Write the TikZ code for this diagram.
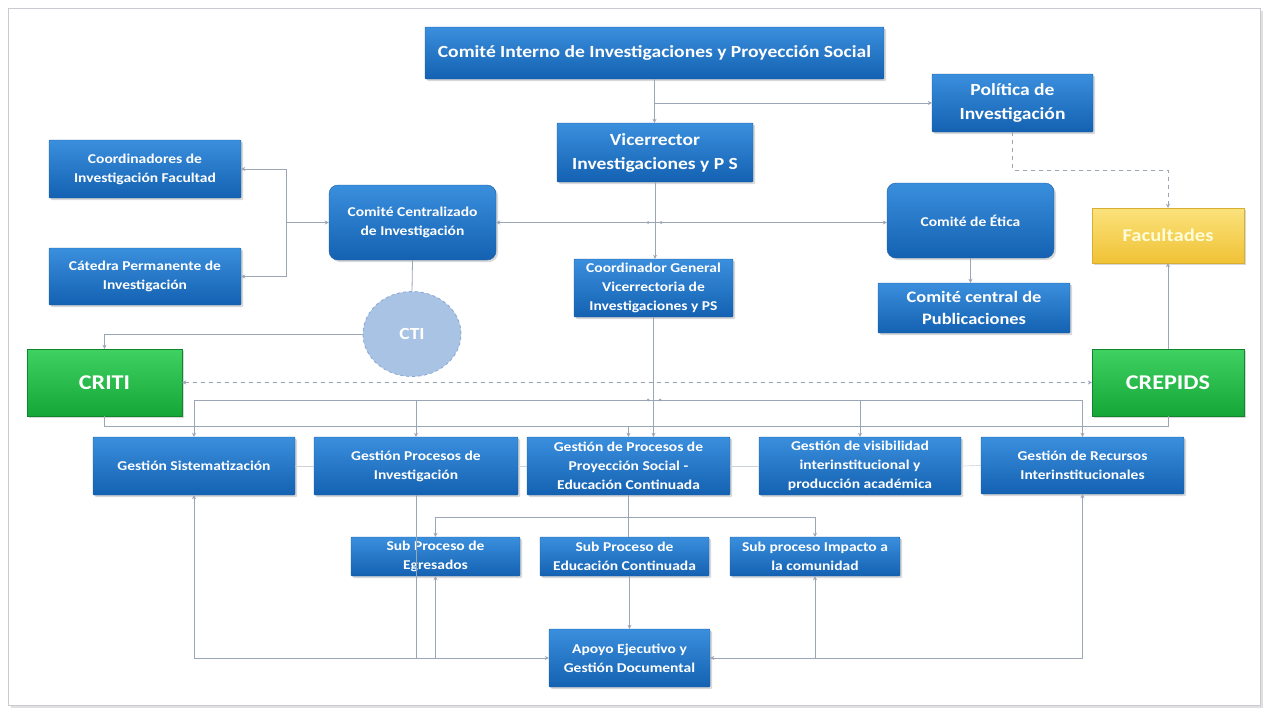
\documentclass[tikz,border=0pt]{standalone}
\usepackage{fontspec}
\setmainfont{Carlito}[FakeStretch=1.15]
\usetikzlibrary{shapes.geometric,arrows.meta,shadows,calc}
\definecolor{bTop}{HTML}{3A8FDD}
\definecolor{bBot}{HTML}{1461B2}
\definecolor{bLine}{HTML}{1A5CA3}
\definecolor{gTop}{HTML}{3FD262}
\definecolor{gBot}{HTML}{14A637}
\definecolor{yTop}{HTML}{FBE27C}
\definecolor{yBot}{HTML}{F0C235}
\definecolor{ctiFill}{HTML}{A9C3E4}
\definecolor{ctiLine}{HTML}{88A8D3}
\definecolor{lnc}{HTML}{9AA5B6}
\definecolor{frameC}{HTML}{C8CCD2}
\tikzset{
  box/.style={draw=bLine, line width=0.4pt, top color=bTop, bottom color=bBot,
    text=white, font=\bfseries\fontsize{13.5}{19}\selectfont, align=center,
    inner sep=1pt, rounded corners=1pt,
    drop shadow={shadow xshift=2pt, shadow yshift=-2pt, opacity=0.3}},
  bigbox/.style={box, font=\bfseries\fontsize{17}{24}\selectfont},
  rbox/.style={box, rounded corners=9pt},
  greenbox/.style={draw=gBot!80!black, line width=0.4pt, top color=gTop, bottom color=gBot,
    text=white, font=\bfseries\fontsize{21}{26}\selectfont, align=center,
    drop shadow={shadow xshift=2pt, shadow yshift=-2pt, opacity=0.3}},
  yellowbox/.style={draw=yBot!90!black, line width=0.4pt, top color=yTop, bottom color=yBot,
    text=yellow!15, font=\bfseries\fontsize{18}{20}\selectfont, align=center,
    drop shadow={shadow xshift=2pt, shadow yshift=-2pt, opacity=0.3}},
  ctistyle/.style={ellipse, draw=ctiLine, dashed, line width=0.8pt, fill=ctiFill,
    text=white, font=\bfseries\fontsize{17}{19}\selectfont},
  line/.style={draw=lnc, line width=0.8pt},
  conn/.style={line, -{Stealth[length=4pt,width=4pt]}},
  conntwo/.style={line, {Stealth[length=4pt,width=4pt]}-{Stealth[length=4pt,width=4pt]}},
  connback/.style={line, {Stealth[length=4pt,width=4pt]}-},
  dashconn/.style={line, dashed, dash pattern=on 4pt off 4pt},
  faint/.style={draw=lnc!50, line width=0.6pt},
  jdot/.style={circle, fill=lnc, inner sep=0pt, minimum size=3pt}
}
\begin{document}
\begin{tikzpicture}[x=1pt,y=-1pt]
\useasboundingbox (0,0) rectangle (1268,710);
\fill[white] (0,0) rectangle (1268,710);
\fill[black!12] (11,11) rectangle (1263,708);
\draw[frameC, fill=white, line width=1pt] (8,8) rectangle (1260,705);

% top row
\node[bigbox, minimum width=459pt, minimum height=52pt] (top) at (654.5,53) {Comité Interno de Investigaciones y Proyección Social};
\node[bigbox, minimum width=161pt, minimum height=58pt] (pol) at (1012.5,103) {Política de\\Investigación};
\node[bigbox, minimum width=196pt, minimum height=59pt] (vic) at (655,152.5) {Vicerrector\\Investigaciones y P S};
\node[box, minimum width=192pt, minimum height=58pt] (coord) at (145,169) {Coordinadores de\\Investigación Facultad};
\node[box, minimum width=192pt, minimum height=57pt] (cat) at (145,276.5) {Cátedra Permanente de\\Investigación};
\node[rbox, minimum width=167pt, minimum height=75pt] (ccen) at (412.5,222.5) {Comité Centralizado\\de Investigación};
\node[rbox, minimum width=167pt, minimum height=75pt] (etica) at (970.5,220.5) {Comité de Ética};
\node[yellowbox, minimum width=152pt, minimum height=55pt] (fac) at (1168,235.5) {Facultades};
\node[box, minimum width=159pt, minimum height=58pt] (cgen) at (653.5,288) {Coordinador General\\Vicerrectoria de\\Investigaciones y PS};
\node[box, font=\bfseries\fontsize{16}{22}\selectfont, minimum width=192pt, minimum height=50pt] (pub) at (974,308) {Comité central de\\Publicaciones};
\node[ctistyle, minimum width=98pt, minimum height=85pt] (cti) at (412,334) {CTI};
\node[greenbox, minimum width=155pt, minimum height=67pt] (criti) at (104.5,382.5) {CRITI};
\node[greenbox, minimum width=152pt, minimum height=67pt] (crepids) at (1168,382.5) {CREPIDS};

% gestion row
\node[box, minimum width=202pt, minimum height=58pt] (g1) at (194,466) {Gestión Sistematización};
\node[box, minimum width=204pt, minimum height=58pt] (g2) at (416,466) {Gestión Procesos de\\Investigación};
\node[box, minimum width=203pt, minimum height=58pt] (g3) at (628.5,466) {Gestión de Procesos de\\Proyección Social -\\Educación Continuada};
\node[box, minimum width=202pt, minimum height=58pt] (g4) at (860,466) {Gestión de visibilidad\\interinstitucional y\\producción académica};
\node[box, minimum width=203pt, minimum height=57pt] (g5) at (1082.5,465.5) {Gestión de Recursos\\Interinstitucionales};

% sub row
\node[box, minimum width=169pt, minimum height=39pt] (s1) at (435.5,556.5) {Sub Proceso de\\Egresados};
\node[box, minimum width=169pt, minimum height=39pt] (s2) at (624.5,556.5) {Sub Proceso de\\Educación Continuada};
\node[box, minimum width=170pt, minimum height=39pt] (s3) at (815,556.5) {Sub proceso Impacto a\\la comunidad};
\node[box, minimum width=161pt, minimum height=58pt] (apoyo) at (629.5,658) {Apoyo Ejecutivo y\\Gestión Documental};

% connectors top
\draw[conn] (top.south) -- (top.south |- vic.north);
\coordinate (polj) at ($(top.south)+(0,-23)$);
\draw[conn] (polj |- pol.west) -- (pol.west);
\draw[conn] (vic.south) -- (vic.south |- cgen.north);
\draw[conntwo] (ccen.east) -- (etica.west |- ccen.east);
\node[jdot] (jd1) at (648,222.5) {};
\node[jdot] (jd2) at (661,222.5) {};
\coordinate (bl) at (286,222.5);
\draw[conn] (bl) |- (coord.east);
\draw[conn] (bl) |- (cat.east);
\draw[conn] (bl) -- (ccen.west);
\draw[line] (ccen.south) -- (cti.north);
\draw[conn] (cti.west) -| (criti.north);
\draw[conn] (etica.south) -- (etica.south |- pub.north);
\draw[dashconn, -{Stealth[length=4pt,width=4pt]}] (pol.south) -- ++(0,38) -| (fac.north);
\draw[conn] (crepids.north) -- (fac.south);
\draw[dashconn, {Stealth[length=4pt,width=4pt]}-{Stealth[length=4pt,width=4pt]}] (criti.east) -- (crepids.west);

% bus
\draw[conn] (cgen.south) -- (cgen.south |- g3.north);
\coordinate (busy) at (0,400);
\draw[line] (g1.north |- busy) -- (g5.north |- busy);
\draw[conn] (g1.north |- busy) -- (g1.north);
\draw[conn] (g2.north |- busy) -- (g2.north);
\draw[conn] (g4.north |- busy) -- (g4.north);
\draw[conn] (g5.north |- busy) -- (g5.north);
\node[jdot] (jd3) at (648,400) {};
\node[jdot] (jd4) at (660,400) {};
\draw[conn] (criti.south) |- ([yshift=10pt]g3.north) -- (g3.north);
\draw[line] (crepids.south) |- ([yshift=10pt]g3.north);

% faint links between gestion boxes
\draw[faint] (g1.east) -- (g2.west);
\draw[faint] (g2.east) -- (g3.west);
\draw[faint] (g3.east) -- (g4.west);
\draw[faint] (g4.east) -- (g5.west);

% sub processes
\coordinate (sj) at (628.5,517);
\draw[line] (g3.south) -- (sj);
\draw[conn] (sj) -| (s1.north);
\draw[conn] (sj) -| (s3.north);
\draw[line] (sj) -- (sj |- s2.north);
\draw[conn] (apoyo.north |- s2.south) -- (apoyo.north);

% bottom
\draw[conntwo] (g1.south) |- (apoyo.west);
\draw[line] (g2.south) -- (g2.south |- apoyo.west);
\draw[connback] (s1.south) -- (s1.south |- apoyo.west);
\draw[conntwo] (g5.south) |- (apoyo.east);
\draw[connback] (s3.south) -- (s3.south |- apoyo.east);
\end{tikzpicture}
\end{document}
